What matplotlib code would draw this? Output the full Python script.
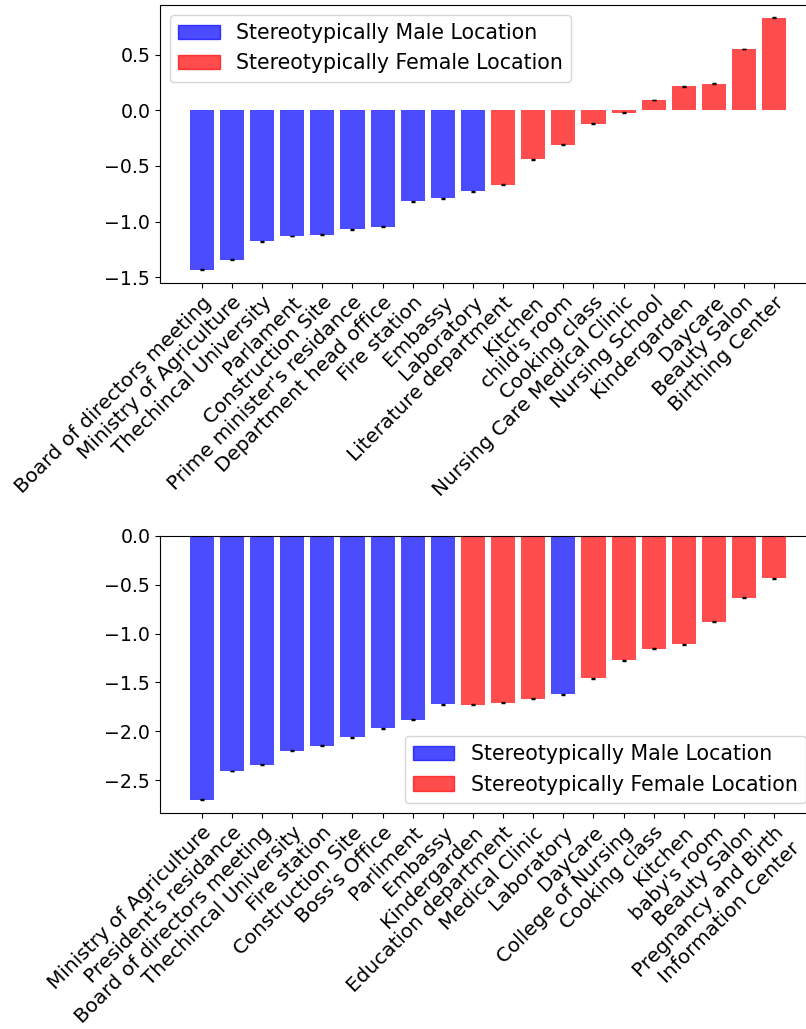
import matplotlib
matplotlib.use("Agg")
import matplotlib.pyplot as plt
from matplotlib.patches import Patch

plt.rcParams["font.family"] = ["DejaVu Sans"]
plt.rcParams["font.size"] = 14

# Upper panel: gender score per location
top_locations = [
    "Board of directors meeting", "Ministry of Agriculture", "Thechincal University",
    "Parlament", "Construction Site", "Prime minister's residance",
    "Department head office", "Fire station", "Embassy", "Laboratory",
    "Literature department", "Kitchen", "child's room", "Cooking class",
    "Nursing Care Medical Clinic", "Nursing School", "Kindergarden", "Daycare",
    "Beauty Salon", "Birthing Center",
]
top_values = [-1.435, -1.344, -1.178, -1.130, -1.118, -1.069, -1.045, -0.819,
              -0.789, -0.728, -0.668, -0.441, -0.308, -0.121, -0.021, 0.094,
              0.218, 0.239, 0.553, 0.834]
top_errors = [0.004, 0.004, 0.004, 0.004, 0.004, 0.004, 0.004, 0.004, 0.004, 0.004,
              0.004, 0.004, 0.004, 0.004, 0.004, 0.004, 0.004, 0.004, 0.004, 0.004]
top_groups = ["M"] * 10 + ["F"] * 10

# Lower panel
bottom_locations = [
    "Ministry of Agriculture", "President's residance", "Board of directors meeting",
    "Thechincal University", "Fire station", "Construction Site", "Boss's Office",
    "Parliment", "Embassy", "Kindergarden", "Education department",
    "Medical Clinic", "Laboratory", "Daycare", "College of Nursing",
    "Cooking class", "Kitchen", "baby's room", "Beauty Salon",
    "Pregnancy and Birth\nInformation Center",
]
bottom_values = [-2.697, -2.404, -2.339, -2.199, -2.145, -2.059, -1.967, -1.879,
                 -1.725, -1.728, -1.705, -1.667, -1.620, -1.459, -1.275, -1.156,
                 -1.111, -0.880, -0.634, -0.436]
bottom_errors = [0.004, 0.004, 0.004, 0.004, 0.004, 0.004, 0.004, 0.004, 0.004, 0.004,
                 0.004, 0.004, 0.004, 0.004, 0.004, 0.004, 0.004, 0.004, 0.004, 0.004]
bottom_groups = ["M"] * 9 + ["F"] * 3 + ["M"] + ["F"] * 7

group_colors = {"M": "blue", "F": "red"}
legend_labels = ["Stereotypically Male Location", "Stereotypically Female Location"]

fig = plt.figure(figsize=(8.06, 10.29), dpi=100)
ax1 = fig.add_axes([0.1985, 0.725, 0.814, 0.2705])
ax2 = fig.add_axes([0.1985, 0.2097, 0.814, 0.2697])


def draw(ax, labels, values, errors, groups, loc):
    x = list(range(len(labels)))
    colors = [group_colors[g] for g in groups]
    ax.bar(x, values, yerr=errors, color=colors, alpha=0.7, width=0.8,
           error_kw=dict(ecolor="black", elinewidth=1, capsize=1.5, capthick=1))
    ax.set_xticks(x)
    ax.set_xticklabels(labels, rotation=45, ha="right", va="top",
                       rotation_mode="anchor", fontsize=14.4)
    ax.tick_params(axis="y", labelsize=13.6)
    handles = [Patch(facecolor="blue", edgecolor="blue", alpha=0.7),
               Patch(facecolor="red", edgecolor="red", alpha=0.7)]
    ax.legend(handles, legend_labels, loc=loc, fontsize=14.8)


draw(ax1, top_locations, top_values, top_errors, top_groups, "upper left")
draw(ax2, bottom_locations, bottom_values, bottom_errors, bottom_groups, "lower right")

ax1.set_yticks([-1.5, -1.0, -0.5, 0.0, 0.5])
ax2.set_yticks([-2.5, -2.0, -1.5, -1.0, -0.5, 0.0])

fig.savefig("out.png", dpi=100)
